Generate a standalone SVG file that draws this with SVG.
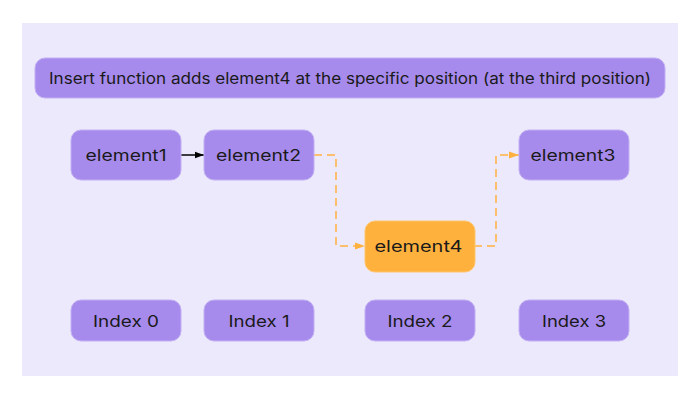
<svg xmlns="http://www.w3.org/2000/svg" width="700" height="400" viewBox="0 0 700 400">
<defs>
<style>
.node{fill:#a78bec;stroke:#c2b0f3;stroke-width:1}
.hl{fill:#ffb13e;stroke:#ffc56a;stroke-width:1}
text{font-family:Inter,"Noto Sans",sans-serif;fill:#1a1a1a;text-anchor:middle;dominant-baseline:central}
.t{font-size:16.5px}
.h{font-size:15.5px}
.c{fill:none;stroke-width:1.5}
</style>
<marker id="ab" viewBox="0 0 10 10" refX="10" refY="5" markerWidth="9" markerHeight="9" orient="auto" markerUnits="userSpaceOnUse"><path d="M0,1.5L10,5L0,8.5z" fill="#000"/></marker>
<marker id="ao" viewBox="0 0 10 10" refX="10" refY="5" markerWidth="10" markerHeight="10" orient="auto" markerUnits="userSpaceOnUse"><path d="M0,1.5L10,5L0,8.5z" fill="#ffb13e"/></marker>
</defs>
<rect x="0" y="0" width="700" height="400" fill="#fff"/>
<rect x="22" y="23" width="656" height="353" fill="#ede9fc"/>
<g id="title"><rect class="node" x="35" y="58" width="630" height="40" rx="10"/><text class="h" x="350" y="78" textLength="602" lengthAdjust="spacingAndGlyphs">Insert function adds element4 at the specific position (at the third position)</text></g>
<g id="connectors">
<path class="c" d="M181,155H204" stroke="#000" marker-end="url(#ab)"/>
<path class="c" d="M314,155H336V246H365" stroke="#ffb13e" stroke-dasharray="8,5" marker-end="url(#ao)"/>
<path class="c" d="M474,246H496V155H519" stroke="#ffb13e" stroke-dasharray="8,5" marker-end="url(#ao)"/>
</g>
<g id="element1"><rect class="node" x="71" y="130" width="110" height="50" rx="10"/><text class="t" x="126" y="155" textLength="81" lengthAdjust="spacingAndGlyphs">element1</text></g>
<g id="element2"><rect class="node" x="204" y="130" width="110" height="50" rx="10"/><text class="t" x="258.5" y="155" textLength="85" lengthAdjust="spacingAndGlyphs">element2</text></g>
<g id="element3"><rect class="node" x="519" y="130" width="110" height="50" rx="10"/><text class="t" x="573" y="155" textLength="85" lengthAdjust="spacingAndGlyphs">element3</text></g>
<g id="element4"><rect class="hl" x="365" y="221" width="110" height="51" rx="10"/><text class="t" x="418.5" y="246" textLength="88" lengthAdjust="spacingAndGlyphs">element4</text></g>
<g id="index0"><rect class="node" x="71" y="300" width="110" height="41" rx="10"/><text class="t" x="126" y="320.5" textLength="66" lengthAdjust="spacingAndGlyphs">Index 0</text></g>
<g id="index1"><rect class="node" x="204" y="300" width="110" height="41" rx="10"/><text class="t" x="259" y="320.5" textLength="61" lengthAdjust="spacingAndGlyphs">Index 1</text></g>
<g id="index2"><rect class="node" x="365" y="300" width="110" height="41" rx="10"/><text class="t" x="420" y="320.5" textLength="65" lengthAdjust="spacingAndGlyphs">Index 2</text></g>
<g id="index3"><rect class="node" x="519" y="300" width="110" height="41" rx="10"/><text class="t" x="574" y="320.5" textLength="64" lengthAdjust="spacingAndGlyphs">Index 3</text></g>
</svg>
